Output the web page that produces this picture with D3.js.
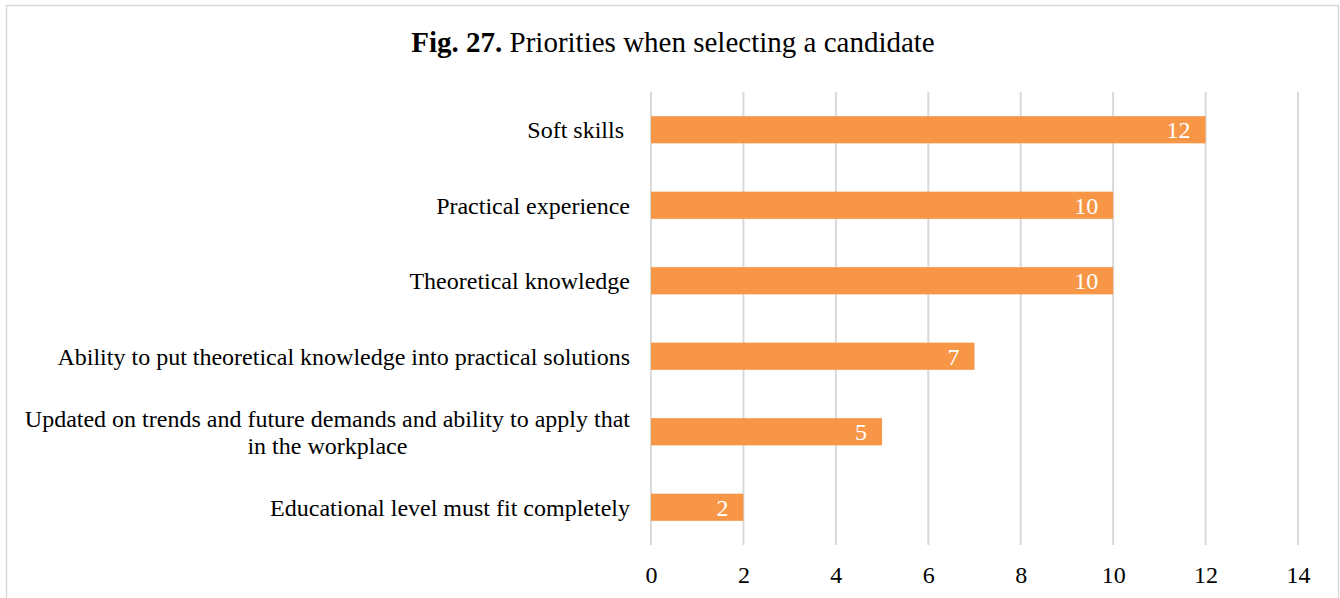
<!DOCTYPE html>
<html>
<head>
<meta charset="utf-8">
<script src="https://cdn.jsdelivr.net/npm/d3@7"></script>
<style>
  html, body { margin: 0; padding: 0; background: #fff; }
  svg { display: block; }
  text { font-family: "Liberation Serif", "Times New Roman", serif; }
</style>
</head>
<body>
<svg id="chart" width="1340" height="598"></svg>
<script>
// Survey answers: what employers prioritise when choosing a candidate
const categories = [
  "Soft skills ",
  "Practical experience",
  "Theoretical knowledge",
  "Ability to put theoretical knowledge into practical solutions",
  "Updated on trends and future demands and ability to apply that|in the workplace",
  "Educational level must fit completely"
];
const values = [12, 10, 10, 7, 5, 2];
const xTicks = [0, 2, 4, 6, 8, 10, 12, 14];

const W = 1340, H = 598;
const margin = { top: 92, right: 42, bottom: 53, left: 651 };
const fontSize = 24;

const svg = d3.select("#chart");

// outer chart frame
svg.append("rect")
  .attr("x", 6.5).attr("y", 5.5)
  .attr("width", 1332).attr("height", 620)
  .attr("fill", "#fff")
  .attr("stroke", "#d9d9d9")
  .attr("stroke-width", 1.5);

const x = d3.scaleLinear().domain([0, 14]).range([margin.left, W - margin.right]);
const y = d3.scaleBand().domain(categories)
  .range([margin.top, H - margin.bottom])
  .paddingInner(0.64).paddingOuter(0.32);

// title
const title = svg.append("text")
  .attr("x", 673).attr("y", 52)
  .attr("text-anchor", "middle")
  .attr("font-size", 29)
  .attr("fill", "#000");
title.append("tspan").attr("font-weight", "bold").text("Fig. 27.");
title.append("tspan").text(" Priorities when selecting a candidate");

// vertical gridlines
svg.append("g")
  .selectAll("line")
  .data(xTicks)
  .join("line")
  .attr("x1", d => x(d)).attr("x2", d => x(d))
  .attr("y1", margin.top).attr("y2", H - margin.bottom)
  .attr("stroke", "#d9d9d9")
  .attr("stroke-width", 2);

// x axis tick labels
const xAxis = d3.axisBottom(x).tickValues(xTicks).tickSize(0).tickPadding(0);
const gx = svg.append("g")
  .attr("transform", `translate(0, ${H - margin.bottom})`)
  .call(xAxis);
gx.select(".domain").remove();
gx.selectAll("text")
  .attr("font-family", "Liberation Serif, Times New Roman, serif")
  .attr("font-size", fontSize)
  .attr("fill", "#000")
  .attr("dy", null)
  .attr("y", 38);

// bars
svg.append("g")
  .selectAll("rect")
  .data(values)
  .join("rect")
  .attr("x", x(0))
  .attr("y", (d, i) => y(categories[i]))
  .attr("width", d => x(d) - x(0))
  .attr("height", y.bandwidth())
  .attr("fill", "#F79646");

// value labels inside bar ends
svg.append("g")
  .selectAll("text")
  .data(values)
  .join("text")
  .attr("x", d => x(d) - 15)
  .attr("y", (d, i) => y(categories[i]) + y.bandwidth() / 2)
  .attr("dy", "0.35em")
  .attr("text-anchor", "end")
  .attr("font-size", fontSize)
  .attr("fill", "#fff")
  .text(d => d);

// category labels (wrapped lines centred on their widest line)
const labelRight = 630;
const lineH = 27;
categories.forEach(c => {
  const lines = c.split("|");
  const cy = y(c) + y.bandwidth() / 2;
  const t = svg.append("text")
    .attr("font-size", fontSize)
    .attr("fill", "#000")
    .style("white-space", "pre");
  const spans = lines.map((ln, k) => t.append("tspan")
    .attr("y", cy + (k - (lines.length - 1) / 2) * lineH)
    .attr("dy", "0.35em")
    .text(ln));
  if (lines.length === 1) {
    t.attr("text-anchor", "end");
    spans[0].attr("x", labelRight);
  } else {
    const widths = spans.map(s => s.node().getComputedTextLength());
    const cx = labelRight - d3.max(widths) / 2;
    t.attr("text-anchor", "middle");
    spans.forEach(s => s.attr("x", cx));
  }
});
</script>
</body>
</html>
